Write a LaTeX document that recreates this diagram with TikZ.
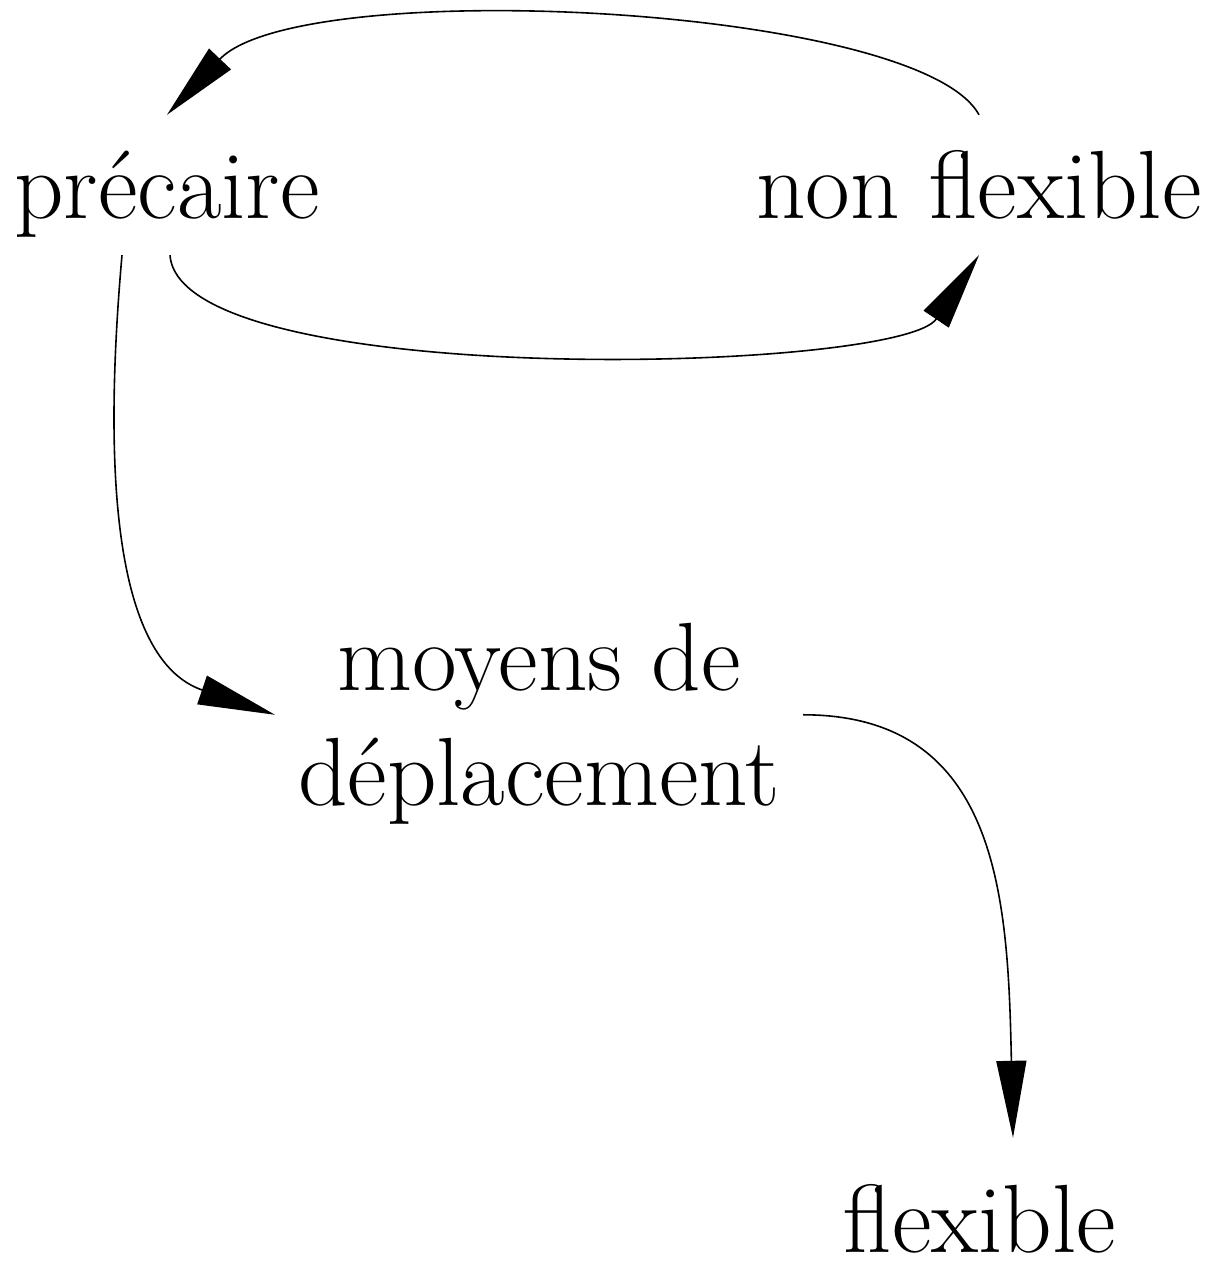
\documentclass[tikz,border=0pt]{standalone}
\usepackage{fontspec}
\usetikzlibrary{arrows.meta}

\begin{document}
\begin{tikzpicture}[x=1pt,y=-1pt,
    word/.style={inner sep=0pt, font=\fontsize{97}{115}\selectfont},
    link/.style={line width=1.6pt, -{Triangle[length=77pt,width=30pt]}}]
      \useasboundingbox (0,0) rectangle (1211,1269);

      % Nodes
      \node[word, text height=103pt, text depth=37pt, anchor=base] (pre) at (167,218) {précaire};
      \node[word, text height=103pt, text depth=37pt, anchor=base] (nonflex) at (979,218) {non flexible};
      \node[word, align=center, inner xsep=23pt] (moy) at (539,724) {moyens de\\déplacement};
      \node[word, text height=114pt, text depth=4pt, anchor=base] (flex) at (980,1252) {flexible};

      % Draw links
      \draw[link] (nonflex.north) .. controls +(-60,-110) and +(133,-140) .. (pre.north);
      \draw[link] ([xshift=3pt]pre.south) .. controls +(10,136) and +(-79,118) .. (nonflex.south);
      \draw[link] ([xshift=-45pt]pre.south) .. controls +(-27,305) and +(-135,-46) .. (moy.178);
      \draw[link] (moy.2) .. controls +(197,0) and +(-5,-238) .. ([xshift=33pt]flex.north);
  \end{tikzpicture}
\end{document}
